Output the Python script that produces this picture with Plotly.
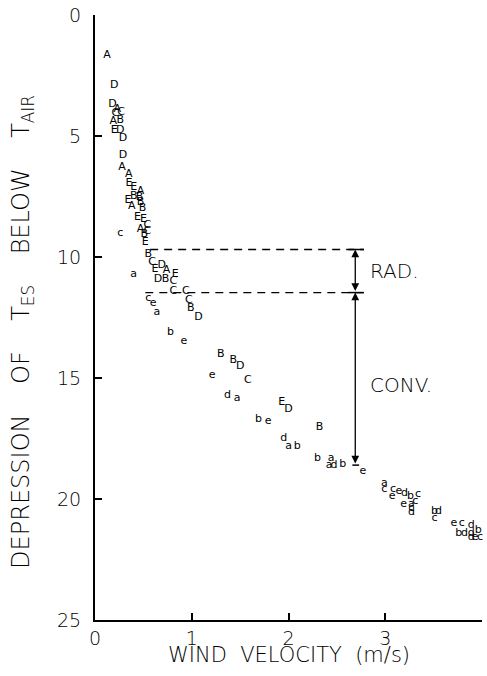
import plotly.graph_objects as go

# Upper-case series (A-E)
upper_x = [0.125, 0.20, 0.18, 0.23, 0.21, 0.27, 0.26, 0.19, 0.20, 0.26, 0.29, 0.29,
           0.28, 0.35, 0.35, 0.40, 0.47, 0.40, 0.46, 0.34, 0.47, 0.38, 0.49, 0.44,
           0.50, 0.54, 0.47, 0.54, 0.51, 0.52, 0.55, 0.59, 0.69, 0.62, 0.74, 0.83,
           0.65, 0.73, 0.81, 0.81, 0.94, 0.97, 0.99, 1.07, 1.30, 1.43, 1.50, 1.58,
           1.93, 2.00, 2.32]
upper_y = [1.66, 2.9, 3.7, 3.9, 4.06, 4.0, 4.35, 4.4, 4.75, 4.75, 5.1, 5.8,
           6.3, 6.6, 6.96, 7.1, 7.3, 7.5, 7.55, 7.66, 7.75, 7.9, 8.0, 8.36,
           8.45, 8.7, 8.87, 8.95, 9.05, 9.4, 9.87, 10.2, 10.35, 10.5, 10.55, 10.7,
           10.9, 10.9, 11.0, 11.4, 11.4, 11.8, 12.1, 12.5, 14.0, 14.25, 14.5, 15.1,
           16.0, 16.3, 17.05]
upper_lab = ["A", "D", "D", "A", "C", "C", "B", "A", "E", "D", "D", "D",
             "A", "A", "E", "E", "A", "B", "B", "E", "B", "A", "B", "E",
             "E", "C", "A", "C", "B", "E", "B", "C", "D", "E", "A", "E",
             "D", "B", "C", "C", "C", "C", "B", "D", "B", "B", "D", "C",
             "E", "D", "B"]

# Lower-case series (a-e)
lower_x = [0.26, 0.40, 0.55, 0.60, 0.64, 0.78, 0.92, 1.21, 1.37, 1.47, 1.69, 1.79,
           1.95, 2.00, 2.09, 2.30, 2.44, 2.42, 2.47, 2.56, 2.77, 2.99, 2.99, 3.08,
           3.07, 3.14, 3.20, 3.26, 3.34, 3.19, 3.27, 3.31, 3.27, 3.27, 3.51, 3.55,
           3.51, 3.71, 3.79, 3.89, 4.02, 3.76, 3.82, 3.89, 3.96, 4.02, 3.89, 3.93,
           3.98]
lower_y = [9.0, 10.7, 11.7, 11.9, 12.3, 13.1, 13.5, 14.9, 15.7, 15.85, 16.7, 16.8,
           17.5, 17.8, 17.8, 18.3, 18.3, 18.6, 18.6, 18.55, 18.85, 19.35, 19.6, 19.6,
           19.9, 19.7, 19.75, 19.9, 19.8, 20.2, 20.2, 20.1, 20.4, 20.55, 20.5, 20.5,
           20.8, 21.0, 21.0, 21.1, 21.05, 21.4, 21.4, 21.4, 21.3, 21.3, 21.6, 21.6,
           21.6]
lower_lab = ["c", "a", "c", "e", "a", "b", "e", "e", "d", "a", "b", "e",
             "d", "a", "b", "b", "a", "a", "d", "b", "e", "a", "c", "c",
             "e", "e", "d", "b", "c", "e", "a", "c", "c", "d", "b", "d",
             "c", "e", "c", "d", "b", "b", "d", "d", "b", "a", "d", "e",
             "c"]

# Reference levels (radiation / convection partition)
rad_top = 9.69
rad_bottom = 11.47
conv_bottom = 18.6
arrow_x = 2.69
dash_top_x = [0.57, 2.78]
dash_bot_x = [0.52, 2.78]

FONT = "DejaVu Sans"
W = 200
SP = "\u00a0\u00a0\u00a0\u00a0"

fig = go.Figure()
fig.add_trace(go.Scatter(x=upper_x, y=upper_y, mode="text", text=upper_lab,
                         textfont=dict(family=FONT, size=11, color="black"),
                         cliponaxis=False, showlegend=False))
fig.add_trace(go.Scatter(x=lower_x, y=lower_y, mode="text", text=lower_lab,
                         textfont=dict(family=FONT, size=11, color="black"),
                         cliponaxis=False, showlegend=False))
fig.add_trace(go.Scatter(x=dash_top_x, y=[rad_top, rad_top], mode="lines",
                         line=dict(color="black", width=1.3, dash="8px,6px"),
                         showlegend=False, hoverinfo="skip"))
fig.add_trace(go.Scatter(x=dash_bot_x, y=[rad_bottom, rad_bottom], mode="lines",
                         line=dict(color="black", width=1.3, dash="8px,6px"),
                         showlegend=False, hoverinfo="skip"))
# caps
for yy, x0, x1 in [(rad_top, 2.62, 2.78), (rad_bottom, 2.62, 2.78), (conv_bottom, 2.66, 2.73)]:
    fig.add_trace(go.Scatter(x=[x0, x1], y=[yy, yy], mode="lines",
                             line=dict(color="black", width=1.5),
                             showlegend=False, hoverinfo="skip"))

for y0, y1 in [(rad_top, rad_bottom), (rad_bottom, conv_bottom)]:
    fig.add_annotation(x=arrow_x, y=y0, ax=arrow_x, ay=y1, xref="x", yref="y",
                       axref="x", ayref="y", showarrow=True, arrowside="end+start",
                       arrowhead=2, arrowsize=1.2, arrowwidth=1.3, arrowcolor="black",
                       text="")

fig.add_annotation(x=2.78, y=(rad_top + rad_bottom) / 2, xref="x", yref="y",
                   text="RAD.", showarrow=False, xanchor="left", xshift=4,
                   font=dict(family=FONT, size=20, color="black", weight=W))
fig.add_annotation(x=2.78, y=15.3, xref="x", yref="y",
                   text="CONV.", showarrow=False, xanchor="left", xshift=4,
                   font=dict(family=FONT, size=20, color="black", weight=W))

# axis titles
fig.add_annotation(x=0.5, y=-0.058, xref="paper", yref="paper",
                   text="WIND\u00a0\u00a0VELOCITY\u00a0\u00a0(m/s)", showarrow=False,
                   xanchor="center", yanchor="middle",
                   font=dict(family=FONT, size=21, color="black", weight=W))
fig.add_annotation(x=-0.189, y=0.476, xref="paper", yref="paper", textangle=-90,
                   text="DEPRESSION" + SP + "OF" + SP + "T<sub>ES</sub>" + SP + "BELOW" + SP + "T<sub>AIR</sub>",
                   showarrow=False, xanchor="center", yanchor="middle",
                   font=dict(family=FONT, size=24, color="black", weight=W))

fig.update_layout(
    width=487, height=676,
    margin=dict(l=95, r=5, t=15, b=56),
    paper_bgcolor="white", plot_bgcolor="white",
    font=dict(family=FONT, color="black"),
    xaxis=dict(range=[0, 4], tickvals=[0, 1, 2, 3, 4], ticktext=["0", "1", "2", "3", "4"],
               showline=True, linecolor="black", linewidth=2, ticks="inside",
               ticklen=7, tickwidth=1.5, tickcolor="black", showgrid=False, zeroline=False,
               tickfont=dict(family=FONT, size=19, weight=W), ticklabelstandoff=0),
    yaxis=dict(range=[25, 0], tickvals=[0, 5, 10, 15, 20, 25],
               showline=True, linecolor="black", linewidth=2, ticks="inside",
               ticklen=7, tickwidth=1.5, tickcolor="black", showgrid=False, zeroline=False,
               tickfont=dict(family=FONT, size=19, weight=W), ticklabelstandoff=8),
)

fig.write_html("out.html")
